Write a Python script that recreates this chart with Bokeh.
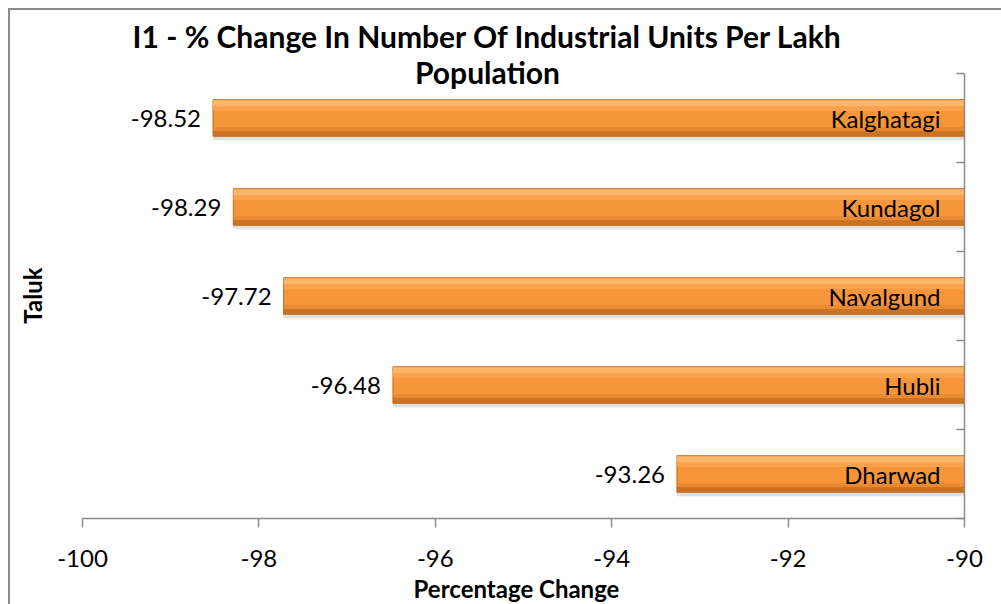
from bokeh.plotting import figure
from bokeh.models import (ColumnDataSource, Range1d, LinearAxis, FixedTicker, Label)
from bokeh.transform import dodge
from bokeh.core.properties import value
from bokeh.embed import file_html
from bokeh.resources import INLINE

# ---- data ----
taluks = ["Kalghatagi", "Kundagol", "Navalgund", "Hubli", "Dharwad"]
changes = [-98.52, -98.29, -97.72, -96.48, -93.26]
x_ticks = [-100, -98, -96, -94, -92, -90]
x_tick_labels = ["-100", "-98", "-96", "-94", "-92", "-90"]

n = len(taluks)
ypos = [n - i - 0.5 for i in range(n)]
src = ColumnDataSource(dict(
    y=ypos, left=changes, right=[-90.0] * n,
    name=taluks, lab=["%.2f" % v for v in changes],
))

FONT = "Lato"

# layout geometry (pixels)
W, H = 1001, 604
PL, PR, PT, PB = 82, 964, 73, 518          # plot-area edges on the canvas
XMIN, XMAX = -100.0, -90.0
xs = (PR - PL) / (XMAX - XMIN)             # px per x unit
ys = (PB - PT) / n                         # px per category

x_range = Range1d(XMIN - PL / xs, XMAX + (W - PR) / xs)
y_range = Range1d(-(H - PB) / ys, n + PT / ys)

def dx(px):  # canvas x pixel -> data x
    return XMIN + (px - PL) / xs

def dy(py):  # canvas y pixel -> data y
    return (PB - py) / ys

p = figure(width=W, height=H, output_backend="svg", toolbar_location=None,
           x_range=x_range, y_range=y_range,
           x_axis_location=None, y_axis_location=None,
           min_border=0, min_border_left=0, min_border_right=0,
           min_border_top=0, min_border_bottom=0,
           outline_line_color=None, background_fill_color=None, border_fill_color=None)
p.styles = {"background": "linear-gradient(#8c8c8c,#8c8c8c) 8px 8px / 2px calc(100% - 8px) no-repeat, "
                          "linear-gradient(#8c8c8c,#8c8c8c) 8px 8px / calc(100% - 8px) 2px no-repeat, white"}
p.grid.visible = False

# shadow
p.hbar(y=dodge("y", -0.045), left="left", right="right", height=0.41, source=src,
       fill_color="#9a9a9a", fill_alpha=0.3, line_color=None)
# main bar
p.hbar(y="y", left="left", right="right", height=0.41, source=src,
       fill_color="#F7953A", line_color="#BF671C", line_width=1)
# top highlight
p.hbar(y=dodge("y", 0.165), left="left", right="right", height=0.07, source=src,
       fill_color="#FCBD70", fill_alpha=0.85, line_color=None)
p.hbar(y=dodge("y", 0.105), left="left", right="right", height=0.06, source=src,
       fill_color="#FAA855", fill_alpha=0.65, line_color=None)
# bottom shade
p.hbar(y=dodge("y", -0.175), left="left", right="right", height=0.06, source=src,
       fill_color="#C46C20", fill_alpha=0.85, line_color=None)
p.hbar(y=dodge("y", -0.125), left="left", right="right", height=0.05, source=src,
       fill_color="#E0822C", fill_alpha=0.6, line_color=None)

# value labels
p.text(x="left", y="y", text="lab", source=src, x_offset=-12,
       text_align="right", text_baseline="middle",
       text_font=value(FONT), text_font_size="24px", text_color="black")
# category labels inside bar
p.text(x="right", y="y", text="name", source=src, x_offset=-24,
       text_align="right", text_baseline="middle",
       text_font=value(FONT), text_font_size="24px", text_color="black")

# bottom axis (at value-axis baseline)
xa = LinearAxis(ticker=FixedTicker(ticks=x_ticks, minor_ticks=[]),
                fixed_location=0, bounds=(XMIN, XMAX))
xa.major_label_overrides = dict(zip(x_ticks, x_tick_labels))
xa.axis_line_color = "#8c8c8c"
xa.axis_line_width = 1.5
xa.major_tick_line_color = "#8c8c8c"
xa.major_tick_line_width = 1.5
xa.major_tick_out = 9
xa.major_tick_in = 0
xa.minor_tick_out = 0
xa.major_label_standoff = 22
xa.major_label_text_font = FONT
xa.major_label_text_font_size = "24px"
xa.major_label_text_color = "black"
p.add_layout(xa, "below")

# category axis at x = -90 (category boundaries)
bounds = list(range(n + 1))
ya = LinearAxis(ticker=FixedTicker(ticks=bounds, minor_ticks=[]),
                fixed_location=XMAX, bounds=(0, n))
ya.major_label_overrides = {b: "" for b in bounds}
ya.axis_line_color = "#8c8c8c"
ya.axis_line_width = 1.5
ya.major_tick_line_color = "#8c8c8c"
ya.major_tick_line_width = 1.5
ya.major_tick_in = 8
ya.major_tick_out = 0
ya.minor_tick_out = 0
ya.major_label_standoff = 0
p.add_layout(ya, "right")

def lab(px, py, text, size, bold, angle=0.0):
    p.add_layout(Label(x=dx(px), y=dy(py), text=text, angle=angle,
                       text_align="center", text_baseline="middle", text_font=FONT,
                       text_font_size=size, text_font_style="bold" if bold else "normal",
                       text_color="black"))

lab(487, 35, "I1 - % Change In Number Of Industrial Units Per Lakh", "30px", True)
lab(487, 71, "Population", "30px", True)
lab(32, 295, "Taluk", "24px", True, 1.5708)
lab(516, 588, "Percentage Change", "24px", True)

open("out.html", "w").write(file_html(p, INLINE))
